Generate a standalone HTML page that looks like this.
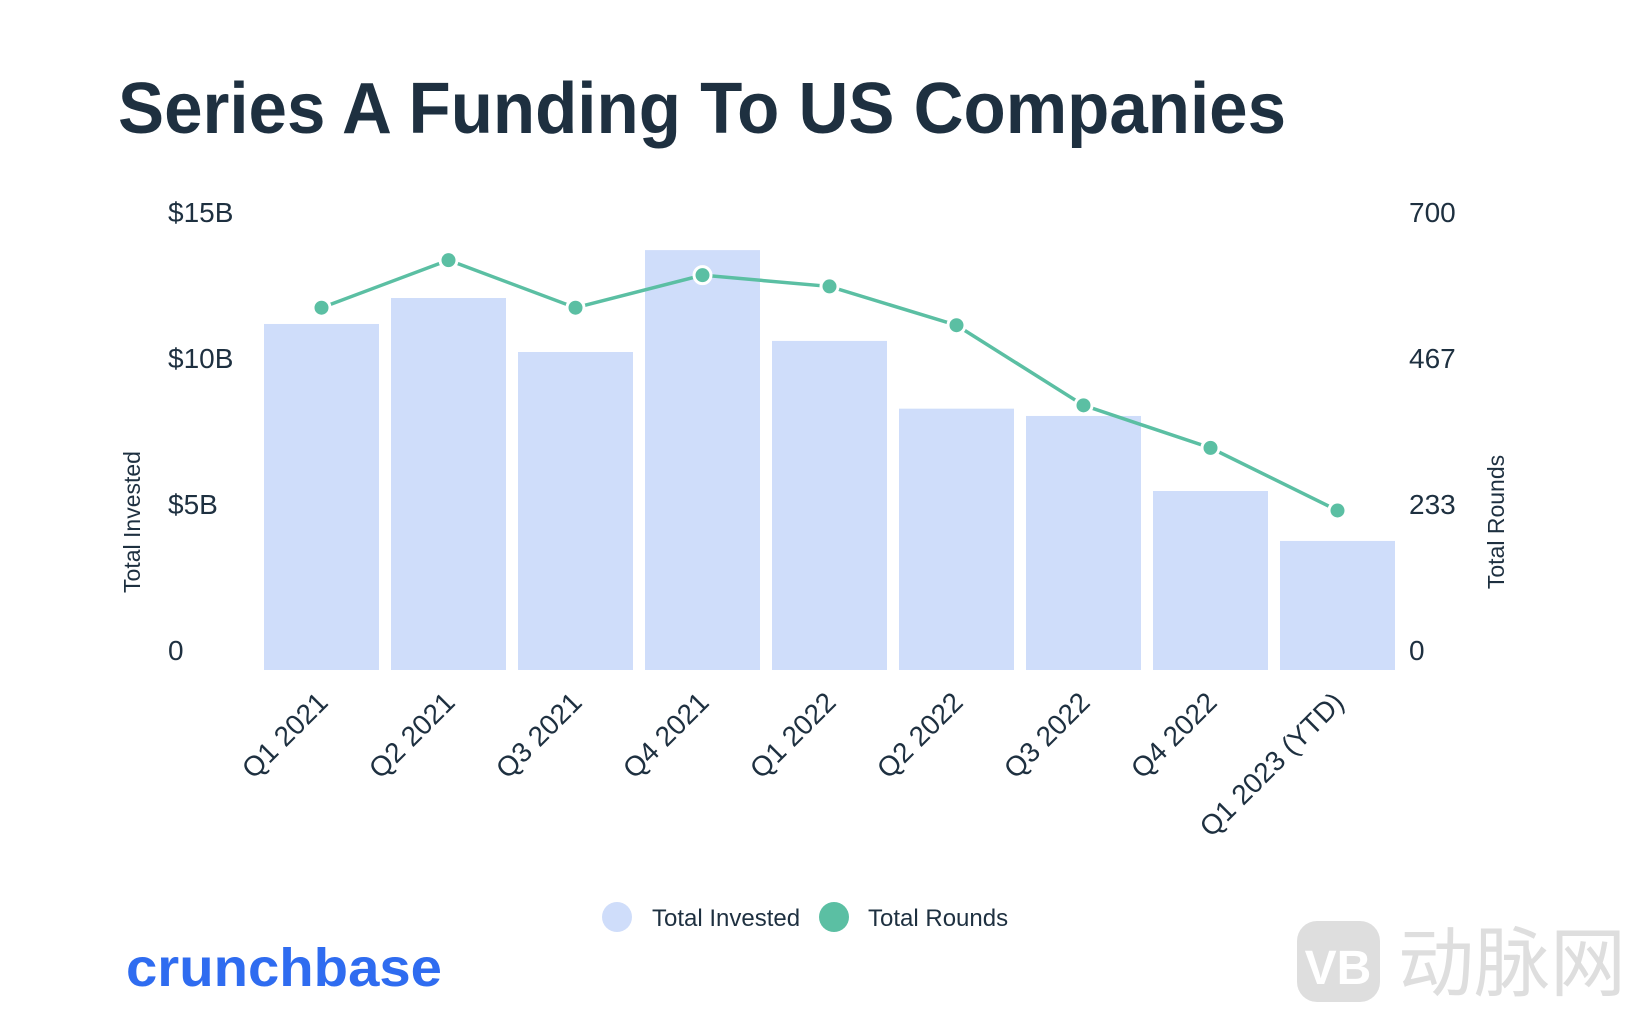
<!DOCTYPE html>
<html><head><meta charset="utf-8"><style>
html,body{margin:0;padding:0;background:#fff;}
svg{display:block;font-family:"Liberation Sans","Noto Sans CJK SC",sans-serif;}
</style></head><body>
<svg id="chart" width="1634" height="1012" viewBox="0 0 1634 1012">
<text x="118" y="133" font-size="72" font-weight="bold" fill="#1e3040" textLength="1168" lengthAdjust="spacingAndGlyphs">Series A Funding To US Companies</text>
<g id="axes"></g>
<g id="bars"></g>
<g id="line"></g>
<text transform="translate(140,522) rotate(-90)" text-anchor="middle" font-size="23" fill="#1e3040">Total Invested</text>
<text transform="translate(1504,522) rotate(-90)" text-anchor="middle" font-size="23" fill="#1e3040">Total Rounds</text>
<g>
<circle cx="617" cy="917" r="15" fill="#cfddfa"/>
<text x="652" y="926" font-size="24" fill="#1e3040">Total Invested</text>
<circle cx="834" cy="917" r="15" fill="#5bbfa3"/>
<text x="868" y="926" font-size="24" fill="#1e3040">Total Rounds</text>
</g>
<text x="126" y="986" font-size="54" font-weight="bold" fill="#2f6cf0" textLength="316" lengthAdjust="spacingAndGlyphs">crunchbase</text>
<g>
<rect x="1297" y="921" width="83" height="81" rx="20" fill="#dedede"/>
<text x="1338" y="984" text-anchor="middle" font-size="48" font-weight="bold" fill="#fff">VB</text>
<text x="1398" y="990" font-size="76" fill="#dedede" font-family="Noto Sans CJK SC, sans-serif">动脉网</text>
</g>
</svg>
<script>
const categories=["Q1 2021","Q2 2021","Q3 2021","Q4 2021","Q1 2022","Q2 2022","Q3 2022","Q4 2022","Q1 2023 (YTD)"];
const invested=[11.85,12.74,10.89,14.38,11.27,8.95,8.7,6.13,4.42];
const rounds=[579,655,579,631,613,551,423,355,255];
const leftTicks=[0,5,10,15];
const leftTickLabels=["0","$5B","$10B","$15B"];
const rightTicks=[0,233.33,466.67,700];
const rightTickLabels=["0","233","467","700"];
const NS="http://www.w3.org/2000/svg";
const y0=670,yTop=232,x0=321.5,pitch=127,bw=115;
function yL(v){return y0-(v/15)*(y0-yTop);}
function yR(v){return y0-(v/700)*(y0-yTop);}
function xC(i){return x0+i*pitch;}
function mk(tag,attrs,parent){const e=document.createElementNS(NS,tag);for(const k in attrs)e.setAttribute(k,attrs[k]);parent.appendChild(e);return e;}
const axes=document.getElementById('axes'),bars=document.getElementById('bars'),line=document.getElementById('line');
leftTicks.forEach((t,i)=>{const e=mk('text',{x:168,y:yL(t)-10,'font-size':28,fill:'#1e3040'},axes);e.textContent=leftTickLabels[i];

});
rightTicks.forEach((t,i)=>{const e=mk('text',{x:1409,y:yR(t)-10,'font-size':28,fill:'#1e3040'},axes);e.textContent=rightTickLabels[i];

});
categories.forEach((c,i)=>{const r=mk('rect',{x:xC(i)-bw/2,y:yL(invested[i]),width:bw,height:y0-yL(invested[i]),fill:'#cfddfa'},bars);


const t=mk('text',{transform:`translate(${xC(i)+8},704) rotate(-45)`,'text-anchor':'end','font-size':28,fill:'#1e3040'},axes);t.textContent=c;

});
const pts=rounds.map((v,i)=>xC(i)+','+yR(v)).join(' ');
const pl=mk('polyline',{points:pts,fill:'none',stroke:'#5bbfa3','stroke-width':3.5},line);


rounds.forEach((v,i)=>{const c=mk('circle',{cx:xC(i),cy:yR(v),r:8.5,fill:'#5bbfa3',stroke:'#fff','stroke-width':3},line);

});
</script>
</body></html>
